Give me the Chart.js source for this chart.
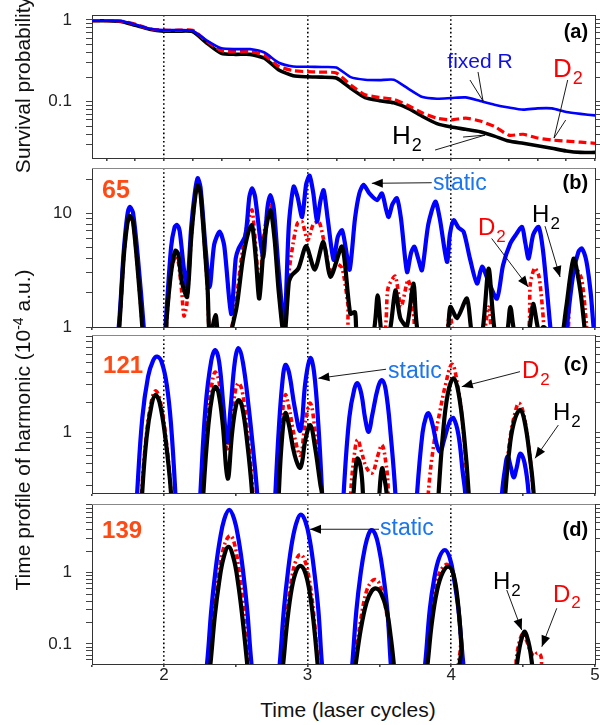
<!DOCTYPE html>
<html>
<head>
<meta charset="utf-8">
<script src="https://cdn.jsdelivr.net/npm/chart.js@4.4.0/dist/chart.umd.min.js"></script>
<style>
  body { margin: 0; background: #fff; width: 600px; height: 725px; overflow: hidden; position: relative;
         font-family: "Liberation Sans", Arial, sans-serif; }
  .p { position: absolute; left: 0; width: 600px; }
  .yl { position: absolute; font-size: 21px; line-height: 1; color: #111; white-space: nowrap;
        transform: translate(-50%, -50%) rotate(-90deg); }
  .xl { position: absolute; font-size: 21px; line-height: 1; color: #111; white-space: nowrap;
        transform: translateX(-50%); }
  sup { font-size: 14px; line-height: 0; vertical-align: 7px; }
</style>
</head>
<body>
<div class="p" style="top:11px;height:155px"><canvas id="pa"></canvas></div>
<div class="p" style="top:164px;height:171px"><canvas id="pb"></canvas></div>
<div class="p" style="top:331px;height:170px"><canvas id="pc"></canvas></div>
<div class="p" style="top:500px;height:192px"><canvas id="pd"></canvas></div>
<div class="yl" style="left:22px;top:85px">Survival probability</div>
<div class="yl" style="left:22px;top:430px">Time profile of harmonic (10<sup>-4</sup> a.u.)</div>
<div class="xl" style="left:348px;top:699px">Time (laser cycles)</div>
<script>
// ---- panel (a): survival probability, sampled every 0.1 cycle
const timeA = [1.5, 1.6, 1.7, 1.8, 1.9, 2.0, 2.1, 2.2, 2.3, 2.4, 2.5, 2.6, 2.7, 2.8, 2.9, 3.0, 3.1, 3.2,
               3.3, 3.4, 3.5, 3.6, 3.7, 3.8, 3.9, 4.0, 4.1, 4.2, 4.3, 4.4, 4.5, 4.6, 4.7, 4.8, 4.9, 5.0];
const fixedA = [0.98, 0.98, 0.97, 0.88, 0.78, 0.755, 0.755, 0.74, 0.56, 0.45, 0.44, 0.44, 0.40, 0.30, 0.27, 0.268, 0.266, 0.262,
                0.2, 0.186, 0.184, 0.186, 0.145, 0.114, 0.109, 0.111, 0.113, 0.102, 0.092, 0.085, 0.08, 0.083, 0.083, 0.075, 0.071, 0.068];
const d2A = [0.98, 0.98, 0.97, 0.89, 0.78, 0.75, 0.75, 0.75, 0.55, 0.42, 0.41, 0.41, 0.37, 0.27, 0.24, 0.233, 0.23, 0.225,
             0.16, 0.122, 0.113, 0.107, 0.09, 0.073, 0.063, 0.06, 0.063, 0.058, 0.05, 0.039, 0.04, 0.036, 0.034, 0.033, 0.032, 0.031];
const h2A = [0.98, 0.98, 0.96, 0.86, 0.77, 0.73, 0.73, 0.72, 0.52, 0.39, 0.38, 0.38, 0.34, 0.245, 0.208, 0.202, 0.2, 0.195,
             0.146, 0.112, 0.103, 0.097, 0.083, 0.066, 0.054, 0.049, 0.046, 0.043, 0.038, 0.033, 0.031, 0.029, 0.027, 0.025, 0.024, 0.024];

// ---- panel (b): harmonic 65, [time, value]
const staticB = [[1.64,0.4],[1.686,1.0],[1.72,4.5],[1.745,9.5],[1.762,11.4],[1.785,10.2],[1.82,4.0],[1.86,1.0],[1.88,0.4],
  [1.99,0.4],[2.011,1.0],[2.05,5.0],[2.075,7.6],[2.092,7.9],[2.11,7.0],[2.14,3.2],[2.162,2.25],[2.19,7.5],[2.215,15],[2.235,20.4],
  [2.255,17],[2.29,5],[2.319,2.25],[2.35,5.3],[2.388,6.9],[2.42,5.2],[2.468,1.3],[2.50,4.0],[2.52,4.9],[2.567,6.4],[2.595,14],
  [2.614,16.6],[2.635,14],[2.69,4.1],[2.72,11],[2.741,14.5],[2.765,11],[2.80,3],[2.838,1.0],[2.87,8],[2.903,17.2],[2.93,14],
  [2.962,9.3],[2.99,18],[3.014,21.5],[3.04,15],[3.066,8.5],[3.09,13],[3.112,16],[3.14,9],[3.181,3.9],[3.21,6.2],[3.24,7.1],
  [3.265,5],[3.293,3.2],[3.33,9],[3.36,15],[3.39,17.8],[3.43,15],[3.483,13.1],[3.518,15],[3.545,11],[3.564,9.3],[3.59,12],
  [3.622,13.6],[3.65,9],[3.692,3.05],[3.72,4.5],[3.743,5.1],[3.77,4],[3.796,3.16],[3.84,8],[3.889,12.7],[3.92,9],[3.97,3.74],
  [3.99,6.5],[4.016,8.7],[4.05,7.5],[4.086,6.9],[4.13,4],[4.179,2.41],[4.214,3.4],[4.26,2.5],[4.318,1.78],[4.36,3.5],[4.411,5.44],
  [4.45,6.5],[4.492,7.6],[4.515,5.5],[4.538,4.0],[4.57,6.5],[4.608,7.6],[4.64,4.5],[4.689,1.0],[4.72,0.4],
  [4.78,0.4],[4.805,1.0],[4.85,3.0],[4.885,4.6],[4.909,4.9],[4.94,3.8],[4.97,2.0],[4.99,1.0],[5.0,0.8]];
const d2B = [[1.66,0.4],[1.69,1.0],[1.72,4],[1.745,8],[1.762,9.2],[1.785,8.5],[1.82,3],[1.85,1.0],[1.87,0.4],
  [1.995,0.4],[2.02,1.2],[2.05,3.0],[2.08,4.2],[2.10,3.8],[2.125,2.0],[2.14,1.25],[2.16,1.6],[2.19,6],[2.215,13],[2.235,18.5],
  [2.255,15],[2.29,4],[2.305,2.0],[2.32,0.8],[2.36,1.15],[2.385,0.8],[2.45,0.8],[2.49,1.3],[2.51,2],[2.55,5],[2.59,9],[2.614,10.7],
  [2.64,5],[2.664,2.2],[2.70,7],[2.741,12.5],[2.77,7],[2.80,2.2],[2.838,0.8],[2.87,3],[2.90,5.5],[2.93,8.2],[2.962,8.4],[3.0,5.8],
  [3.04,8],[3.08,8.4],[3.11,6],[3.16,3],[3.20,3.6],[3.24,3.3],[3.28,1.6],[3.30,0.8],[3.52,0.8],[3.56,2.2],[3.61,2.8],[3.65,1.5],
  [3.70,2.6],[3.74,1.2],[3.76,0.8],[3.95,0.8],[3.99,1.31],[4.03,0.8],[4.21,0.8],[4.26,1.5],[4.30,0.8],[4.52,0.8],[4.55,2.4],
  [4.58,3.3],[4.61,2.8],[4.64,1.2],[4.66,0.5],[4.79,0.5],[4.83,2.5],[4.87,3.2],[4.905,2.7],[4.93,1.5],[4.96,0.5]];
const h2B = [[1.66,0.4],[1.69,1.0],[1.72,4],[1.745,8],[1.762,9.5],[1.785,8.5],[1.82,3],[1.85,1.0],[1.87,0.4],
  [1.995,0.4],[2.02,1.2],[2.05,3.0],[2.08,4.7],[2.10,4.4],[2.125,2.5],[2.162,1.84],[2.19,6],[2.215,13],[2.235,17.8],[2.255,15],
  [2.29,4],[2.305,2.1],[2.32,0.8],[2.36,1.27],[2.385,0.8],[2.45,0.8],[2.49,1.2],[2.51,1.6],[2.55,4],[2.59,7],[2.614,7.9],[2.64,4],
  [2.664,1.78],[2.70,6],[2.741,10.7],[2.77,6],[2.80,2],[2.838,0.8],[2.87,2.5],[2.89,2.86],[2.936,3.27],[2.99,5.15],[3.05,3.2],
  [3.11,5.6],[3.16,2.76],[3.24,5.1],[3.297,1.31],[3.33,1.35],[3.35,0.8],[3.45,0.8],[3.488,1.9],[3.52,0.8],[3.57,0.9],[3.611,2.1],
  [3.645,1.2],[3.69,1.0],[3.738,2.41],[3.78,0.8],[3.96,0.8],[3.993,1.5],[4.04,1.2],[4.109,1.78],[4.15,0.8],[4.21,0.8],[4.26,3.27],
  [4.31,0.8],[4.38,0.8],[4.411,1.5],[4.45,0.8],[4.53,0.8],[4.569,1.6],[4.61,0.9],[4.64,1.0],[4.68,0.9],[4.75,0.6],[4.80,1.5],
  [4.851,4.0],[4.90,2],[4.944,0.6]];

// ---- panel (c): harmonic 121
const staticC = [[1.80,0.1],[1.814,0.25],[1.85,1.4],[1.89,3.6],[1.925,5.2],[1.953,5.7],[1.985,5.0],[2.02,3.0],[2.05,1.2],[2.08,0.25],[2.09,0.1],
  [2.24,0.1],[2.254,0.25],[2.29,1.8],[2.33,5.2],[2.358,6.6],[2.385,5.0],[2.415,1.8],[2.44,0.8],[2.465,1.8],[2.495,5.2],[2.52,6.9],
  [2.55,5.0],[2.59,1.8],[2.625,0.6],[2.649,0.25],[2.66,0.1],
  [2.765,0.1],[2.776,0.25],[2.80,1.1],[2.825,3.2],[2.845,4.7],[2.87,4.0],[2.91,1.8],[2.95,1.05],[2.985,3.2],[3.019,5.5],[3.045,4.0],
  [3.075,1.2],[3.101,0.25],[3.11,0.1],
  [3.24,0.1],[3.251,0.25],[3.29,1.4],[3.325,2.7],[3.348,3.1],[3.375,2.4],[3.40,1.4],[3.425,1.02],[3.45,1.5],[3.49,2.8],[3.518,3.33],
  [3.545,2.6],[3.58,0.9],[3.611,0.25],[3.62,0.1],
  [3.75,0.1],[3.762,0.25],[3.80,1.0],[3.825,1.45],[3.842,1.56],[3.87,1.2],[3.90,0.75],[3.924,0.65],[3.95,0.85],[3.99,1.3],[4.016,1.39],
  [4.05,0.95],[4.08,0.4],[4.097,0.25],[4.11,0.1],
  [4.34,0.1],[4.353,0.25],[4.375,0.45],[4.392,0.58],[4.415,0.45],[4.434,0.36],[4.455,0.45],[4.48,0.62],[4.51,0.5],[4.538,0.25],[4.55,0.1],[5.0,0.1]];
const d2C = [[1.835,0.1],[1.845,0.25],[1.88,1.0],[1.915,2.1],[1.941,2.6],[1.97,2.2],[2.01,1.0],[2.05,0.25],[2.06,0.1],
  [2.26,0.1],[2.27,0.25],[2.31,1.6],[2.34,3.4],[2.358,4.0],[2.38,3.4],[2.41,1.7],[2.444,0.65],[2.475,1.5],[2.50,2.7],[2.52,3.1],
  [2.545,2.6],[2.58,1.1],[2.62,0.25],[2.63,0.1],
  [2.785,0.1],[2.795,0.25],[2.82,1.2],[2.845,2.37],[2.87,1.8],[2.91,0.9],[2.95,0.6],[2.985,1.3],[3.019,1.96],[3.05,1.1],[3.09,0.35],
  [3.10,0.25],[3.11,0.1],
  [3.29,0.1],[3.30,0.25],[3.325,0.6],[3.348,0.85],[3.375,0.65],[3.41,0.45],[3.45,0.4],[3.49,0.6],[3.518,0.755],[3.545,0.5],[3.56,0.3],[3.57,0.1],
  [3.83,0.1],[3.84,0.25],[3.88,0.8],[3.92,1.6],[3.96,3.0],[4.005,4.77],[4.04,3.2],[4.08,1.2],[4.11,0.3],[4.12,0.1],
  [4.36,0.1],[4.37,0.25],[4.41,0.9],[4.445,1.6],[4.47,1.96],[4.50,1.6],[4.54,0.7],[4.57,0.25],[4.58,0.1],[5.0,0.1]];
const h2C = [[1.84,0.1],[1.849,0.25],[1.88,0.9],[1.915,1.9],[1.941,2.37],[1.97,2.0],[2.01,0.9],[2.05,0.25],[2.06,0.1],
  [2.265,0.1],[2.275,0.25],[2.31,1.2],[2.34,2.5],[2.358,2.86],[2.38,2.5],[2.41,1.2],[2.444,0.35],[2.475,1.0],[2.50,1.8],[2.52,2.11],
  [2.545,1.8],[2.58,0.8],[2.614,0.25],[2.625,0.1],
  [2.79,0.1],[2.80,0.25],[2.82,0.8],[2.845,1.56],[2.87,1.2],[2.91,0.6],[2.95,0.45],[2.985,0.85],[3.019,1.19],[3.05,0.75],[3.09,0.3],
  [3.10,0.25],[3.11,0.1],
  [3.31,0.1],[3.32,0.25],[3.335,0.45],[3.348,0.556],[3.37,0.45],[3.385,0.25],[3.39,0.1],[3.49,0.1],[3.50,0.25],[3.518,0.443],
  [3.535,0.35],[3.55,0.25],[3.56,0.1],
  [3.90,0.1],[3.912,0.25],[3.94,0.9],[3.975,2.4],[4.016,3.47],[4.05,2.5],[4.09,0.9],[4.121,0.25],[4.13,0.1],
  [4.37,0.1],[4.376,0.25],[4.41,0.8],[4.445,1.4],[4.48,1.68],[4.51,1.3],[4.545,0.6],[4.573,0.25],[4.58,0.1],[5.0,0.1]];

// ---- panel (d): harmonic 139
const staticD = [[2.28,0.03],[2.30,0.052],[2.33,0.3],[2.36,1.1],[2.39,2.9],[2.42,5.6],[2.455,7.6],[2.49,5.6],[2.52,2.9],[2.55,1.1],
  [2.58,0.3],[2.61,0.052],[2.63,0.03],
  [2.79,0.03],[2.806,0.052],[2.835,0.3],[2.865,1.1],[2.895,2.9],[2.925,5.2],[2.953,6.5],[2.985,5.2],[3.015,2.9],[3.045,1.1],
  [3.075,0.3],[3.10,0.052],[3.115,0.03],
  [3.30,0.03],[3.311,0.052],[3.34,0.3],[3.37,1.0],[3.40,2.3],[3.425,3.5],[3.445,3.97],[3.47,3.5],[3.495,2.3],[3.525,1.0],
  [3.555,0.3],[3.579,0.052],[3.59,0.03],
  [3.80,0.03],[3.818,0.052],[3.85,0.3],[3.88,0.8],[3.915,1.6],[3.955,2.08],[3.99,1.6],[4.02,0.8],[4.05,0.3],[4.084,0.052],[4.10,0.03],[5.0,0.03]];
const d2D = [[2.305,0.03],[2.318,0.055],[2.35,0.28],[2.38,0.9],[2.41,2.0],[2.44,3.0],[2.465,3.3],[2.49,2.6],[2.52,1.2],[2.55,0.4],
  [2.58,0.08],[2.595,0.03],
  [2.81,0.03],[2.825,0.06],[2.86,0.3],[2.89,0.85],[2.92,1.5],[2.95,1.8],[2.98,1.5],[3.01,0.85],[3.04,0.3],[3.07,0.06],[3.085,0.03],
  [3.315,0.03],[3.33,0.058],[3.37,0.22],[3.41,0.55],[3.445,0.75],[3.47,0.8],[3.50,0.7],[3.54,0.35],[3.575,0.12],[3.595,0.055],[3.61,0.03],
  [3.81,0.03],[3.825,0.06],[3.86,0.28],[3.895,0.7],[3.935,1.15],[3.975,1.3],[4.01,1.0],[4.04,0.45],[4.065,0.12],[4.08,0.03],
  [4.44,0.03],[4.452,0.06],[4.475,0.11],[4.50,0.14],[4.525,0.11],[4.55,0.08],[4.575,0.068],[4.60,0.075],[4.625,0.066],[4.645,0.03],[5.0,0.03]];
const h2D = [[2.31,0.03],[2.324,0.052],[2.355,0.25],[2.385,0.75],[2.415,1.6],[2.45,2.3],[2.485,1.6],[2.515,0.75],[2.545,0.25],
  [2.58,0.052],[2.59,0.03],
  [2.815,0.03],[2.83,0.052],[2.86,0.22],[2.89,0.6],[2.92,1.05],[2.95,1.25],[2.98,1.05],[3.01,0.6],[3.04,0.22],[3.07,0.052],[3.08,0.03],
  [3.32,0.03],[3.335,0.052],[3.37,0.16],[3.41,0.38],[3.445,0.55],[3.478,0.6],[3.51,0.52],[3.55,0.3],[3.58,0.12],[3.60,0.052],[3.61,0.03],
  [3.82,0.03],[3.835,0.052],[3.865,0.2],[3.90,0.55],[3.94,1.0],[3.981,1.21],[4.015,0.95],[4.045,0.4],[4.07,0.1],[4.085,0.03],
  [4.445,0.03],[4.457,0.052],[4.475,0.09],[4.495,0.13],[4.51,0.149],[4.525,0.13],[4.545,0.09],[4.562,0.052],[4.575,0.03],[5.0,0.03]];

// ---- axes
const xTicksA = [1.6, 1.8, 2, 2.2, 2.4, 2.6, 2.8, 3, 3.2, 3.4, 3.6, 3.8, 4, 4.2, 4.4, 4.6, 4.8, 5];
const xTicksB = [1.5, 2, 2.5, 3, 3.5, 4, 4.5, 5];
const xLabels = [2, 3, 4, 5];
const dottedAt = [2, 3, 4];
const yLabelsA = [0.1, 1];
const yLabelsB = [1, 10];
const yLabelsC = [1];
const yLabelsD = [0.1, 1];

const FF = '"Liberation Sans", Arial, Helvetica, sans-serif';
const BLUE = '#0000ff', RED = '#ff0000', BLACK = '#000000';
const NUM = '#ff4a14', SKY = '#1a75ee';

Chart.defaults.font.family = FF;
Chart.defaults.font.size = 17;
Chart.defaults.color = '#222';

function logTicks(min, max) {
  const out = [];
  for (let k = Math.floor(Math.log10(min)); k <= Math.ceil(Math.log10(max)); k++) {
    for (let d = 1; d <= 9; d++) {
      const v = Number((d * Math.pow(10, k)).toPrecision(3));
      if (v >= min && v <= max) out.push(v);
    }
  }
  return out;
}

const pairs = arr => arr.map(([x, y]) => ({ x, y }));
const zip = (xs, ys) => xs.map((x, i) => ({ x, y: ys[i] }));

function line(data, color, width, dash, order, tension) {
  return { data, borderColor: color, borderWidth: width, borderDash: dash, order, tension,
           fill: false, clip: 0, pointRadius: 0, borderJoinStyle: 'round', borderCapStyle: dash.length ? 'butt' : 'round' };
}

// notes: text labels and arrows placed in data space (x = time, l = log10 of y value)
const notesPlugin = {
  id: 'notes',
  afterDatasetsDraw(chart, args, opts) {
    const { ctx, chartArea: a, scales: { x, y } } = chart;
    const X = t => x.getPixelForValue(t);
    const Y = l => y.getPixelForValue(Math.pow(10, l));
    ctx.save();
    ctx.strokeStyle = opts.topColor || '#888'; ctx.lineWidth = 1;
    ctx.beginPath(); ctx.moveTo(a.left, a.top + 0.5); ctx.lineTo(a.right, a.top + 0.5); ctx.stroke();
    for (const it of opts.items || []) {
      if (it.line) {
        const [t1, l1, t2, l2] = it.line;
        const x1 = X(t1), y1 = Y(l1), x2 = X(t2), y2 = Y(l2);
        ctx.strokeStyle = '#000'; ctx.lineWidth = 0.9;
        ctx.beginPath(); ctx.moveTo(x1, y1); ctx.lineTo(x2, y2); ctx.stroke();
        if (it.head) {
          const ang = Math.atan2(y2 - y1, x2 - x1), L = 11, W = 4.5;
          const c = Math.cos(ang), s = Math.sin(ang);
          ctx.fillStyle = '#000';
          ctx.beginPath();
          ctx.moveTo(x2, y2);
          ctx.lineTo(x2 - L * c + W * s, y2 - L * s - W * c);
          ctx.lineTo(x2 - L * c - W * s, y2 - L * s + W * c);
          ctx.closePath(); ctx.fill();
        }
      } else {
        ctx.font = (it.bold ? 'bold ' : '') + it.size + 'px ' + FF;
        ctx.fillStyle = it.color || '#000';
        ctx.textAlign = it.align || 'left';
        ctx.textBaseline = 'alphabetic';
        const x0 = X(it.t), y0 = Y(it.l);
        ctx.fillText(it.text, x0, y0);
        if (it.sub) {
          const w = ctx.measureText(it.text).width;
          ctx.font = Math.round(it.size * 0.7) + 'px ' + FF;
          ctx.textAlign = 'left';
          ctx.fillText(it.sub, x0 + w + 1, y0 + it.size * 0.28);
        }
      }
    }
    ctx.restore();
  }
};

function zeroPad(s) { s.paddingTop = 0; s.paddingBottom = 0; s.paddingLeft = 0; s.paddingRight = 0; }

function panel(id, p) {
  const yt = logTicks(p.min, p.max);
  const yAxis = (pos, w, labels) => ({
    type: 'logarithmic', position: pos, min: p.min, max: p.max, axis: 'y',
    afterBuildTicks: s => { s.ticks = yt.map(v => ({ value: v })); },
    afterFit: s => { s.width = w; zeroPad(s); },
    ticks: { autoSkip: false, padding: 14, color: '#222', callback: v => labels.includes(v) ? String(v) : '' },
    grid: { drawOnChartArea: false, tickLength: pos === 'left' ? 6 : 5, tickColor: '#444', lineWidth: 1 },
    border: { color: '#333', width: 1 }
  });
  new Chart(document.getElementById(id), {
    type: 'line',
    data: { datasets: p.sets },
    options: {
      responsive: true, maintainAspectRatio: false, animation: false, devicePixelRatio: 1,
      layout: { padding: { top: 4, left: 0, right: 0, bottom: 0 } },
      plugins: { legend: { display: false }, tooltip: { enabled: false },
                 notes: { items: p.notes, topColor: p.topColor } },
      scales: {
        x: {
          type: 'linear', min: 1.5, max: 5,
          afterBuildTicks: s => { s.ticks = p.xTicks.map(v => ({ value: v })); },
          afterFit: s => { s.height = p.xh; zeroPad(s); },
          ticks: { autoSkip: false, maxRotation: 0, minRotation: 0, padding: 7, color: '#222',
                   font: { size: 17, lineHeight: 0.2 },
                   callback: v => (p.showX && xLabels.includes(v)) ? String(v) : '' },
          grid: { color: c => (c.tick && dottedAt.includes(c.tick.value)) ? '#000' : 'rgba(0,0,0,0)',
                  lineWidth: 1.6, tickColor: '#444', tickLength: 3 },
          border: { color: '#333', width: 1, dash: [1.6, 2.6] }
        },
        y: yAxis('left', 92, p.yLabels),
        yr: yAxis('right', 5, [])
      }
    },
    plugins: [notesPlugin]
  });
}

const arrow = (t1, l1, t2, l2) => ({ line: [t1, l1, t2, l2], head: true });
const stroke = (t1, l1, t2, l2) => ({ line: [t1, l1, t2, l2], head: false });

panel('pa', {
  min: 0.0205, max: 1.151, xTicks: xTicksA, xh: 8, yLabels: yLabelsA, topColor: '#333',
  sets: [
    line(zip(timeA, fixedA), BLUE, 2.6, [], 0, 0.2),
    line(zip(timeA, d2A), RED, 3.2, [8, 4], 1, 0.2),
    line(zip(timeA, h2A), BLACK, 3.6, [], 2, 0.2)
  ],
  notes: [
    { text: '(a)', t: 4.952, l: -0.22, size: 20, bold: true, align: 'right' },
    { text: 'fixed R', t: 4.2, l: -0.588, size: 21, color: '#1010e0', align: 'center' },
    { text: 'D', sub: '2', t: 4.708, l: -0.694, size: 26, color: RED },
    { text: 'H', sub: '2', t: 3.588, l: -1.518, size: 26, color: BLACK },
    stroke(4.13, -0.734, 4.221, -0.991), stroke(4.186, -0.636, 4.221, -0.991),
    stroke(4.81, -0.734, 4.715, -1.444), stroke(4.796, -1.224, 4.715, -1.444),
    stroke(3.887, -1.591, 4.235, -1.408), stroke(4.082, -1.432, 4.235, -1.408)
  ]
});

panel('pb', {
  min: 1, max: 25.1, xTicks: xTicksB, xh: 8, yLabels: yLabelsB,
  sets: [
    line(pairs(staticB), BLUE, 4.2, [], 1, 0.25),
    line(pairs(d2B), RED, 3.6, [5, 3, 2, 3], 2, 0.25),
    line(pairs(h2B), BLACK, 4.2, [], 0, 0.25)
  ],
  notes: [
    { text: '65', t: 1.57, l: 1.135, size: 25, bold: true, color: NUM },
    { text: '(b)', t: 4.952, l: 1.214, size: 20, bold: true, align: 'right' },
    { text: 'static', t: 3.873, l: 1.206, size: 23, color: SKY },
    arrow(3.864, 1.27, 3.447, 1.265),
    { text: 'D', sub: '2', t: 4.186, l: 0.808, size: 24, color: RED },
    arrow(4.281, 0.779, 4.536, 0.352),
    { text: 'H', sub: '2', t: 4.562, l: 0.923, size: 24, color: BLACK },
    arrow(4.652, 0.888, 4.757, 0.44)
  ]
});

panel('pc', {
  min: 0.252, max: 9.33, xTicks: xTicksB, xh: 8, yLabels: yLabelsC,
  sets: [
    line(pairs(staticC), BLUE, 4.2, [], 1, 0.4),
    line(pairs(d2C), RED, 3.6, [5, 3, 2, 3], 2, 0.4),
    line(pairs(h2C), BLACK, 4.2, [], 0, 0.4)
  ],
  notes: [
    { text: '121', t: 1.577, l: 0.593, size: 24, bold: true, color: NUM },
    { text: '(c)', t: 4.952, l: 0.613, size: 20, bold: true, align: 'right' },
    { text: 'static', t: 3.56, l: 0.54, size: 23, color: SKY },
    arrow(3.546, 0.63, 3.075, 0.54),
    { text: 'D', sub: '2', t: 4.492, l: 0.543, size: 24, color: RED },
    arrow(4.478, 0.606, 4.073, 0.457),
    { text: 'H', sub: '2', t: 4.708, l: 0.126, size: 24, color: BLACK },
    arrow(4.745, 0.076, 4.583, -0.254)
  ]
});

panel('pd', {
  min: 0.0524, max: 9.19, xTicks: xTicksB, xh: 28, yLabels: yLabelsD, showX: true,
  sets: [
    line(pairs(staticD), BLUE, 4.2, [], 1, 0.4),
    line(pairs(d2D), RED, 3.6, [5, 3, 2, 3], 2, 0.4),
    line(pairs(h2D), BLACK, 4.2, [], 0, 0.4)
  ],
  notes: [
    { text: '139', t: 1.57, l: 0.487, size: 24, bold: true, color: NUM },
    { text: '(d)', t: 4.952, l: 0.515, size: 20, bold: true, align: 'right' },
    { text: 'static', t: 3.504, l: 0.529, size: 23, color: SKY },
    arrow(3.497, 0.609, 3.017, 0.609),
    { text: 'H', sub: '2', t: 4.29, l: -0.229, size: 24, color: BLACK },
    arrow(4.386, -0.243, 4.49, -0.804),
    { text: 'D', sub: '2', t: 4.708, l: -0.407, size: 24, color: RED },
    arrow(4.734, -0.499, 4.63, -1.038)
  ]
});
</script>
</body>
</html>
